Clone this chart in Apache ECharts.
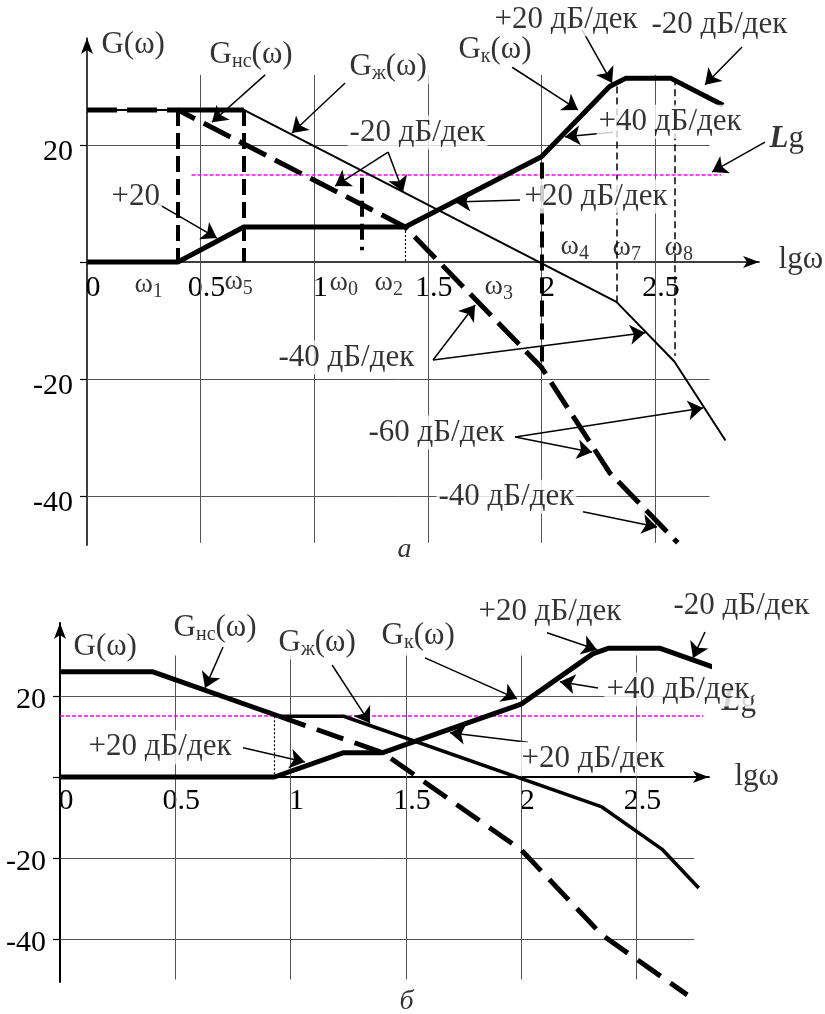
<!DOCTYPE html>
<html>
<head>
<meta charset="utf-8">
<script src="https://cdn.jsdelivr.net/npm/echarts@6/dist/echarts.min.js"></script>
<style>
  html, body { margin: 0; padding: 0; background: #fff; }
  #chart { width: 825px; height: 1014px; }
</style>
</head>
<body>
<div id="chart"></div>
<script>
// ---------- axes ----------
const xTicks = [0, 0.5, 1, 1.5, 2, 2.5];
const yTickValues = [20, 0, -20, -40];
const yTickLabels = [20, -20, -40];
const gridXs = [0.5, 1, 1.5, 2, 2.5];
const gridYs = [20, -20, -40];
const lgLevel = 15;

// ---------- panel а: asymptotic characteristics, dB vs lg ω ----------
const gNsA = [[0, 26], [0.4, 26], [1.4, 6], [2.0, -18], [2.3, -36], [2.6, -48]];
const gZhA = [[0, 26], [0.69, 26], [2.33, -6.8], [2.585, -17], [2.81, -30.5]];
const gKA = [[0, 0], [0.4, 0], [0.69, 6], [1.4, 6], [2.0, 18], [2.3, 30], [2.37, 31.4], [2.57, 31.4], [2.8, 26.8]];
const shelfA = [[0.4, 26], [0.69, 26]];
const lgSpanA = [0.46, 2.79];
const dropsThickA = [[0.4, 26, 0], [0.69, 26, 0], [1.21, 14.4, 2], [2.0, 17, -17]];
const dropsDotA = [[1.4, 6, 0]];
const dropsThinA = [[2.33, 30, -6.8], [2.585, 31.4, -16]];

// ---------- panel б ----------
const gNsB = [[0, 26], [0.4, 26], [0.95, 15]];
const gNsTailB = [[0.95, 15], [1.4, 6], [2.0, -18], [2.35, -39], [2.72, -53.8]];
const gZhB = [[0.95, 15], [1.23, 15], [2.35, -7.4], [2.61, -17.8], [2.77, -27.4]];
const gKB = [[0, 0], [0.93, 0], [1.23, 6], [1.4, 6], [2.0, 18], [2.31, 30.4], [2.38, 31.8], [2.6, 31.8], [2.83, 27.2]];
const lgSpanB = [0, 2.79];
const dropsDotB = [[0.93, 15, 0]];

// ---------- annotations (text, x, y) ----------
const notesA = [
  ['G(ω)', 0.057, 37.1],
  ['G{s|нс}(ω)', 0.533, 35.4],
  ['G{s|ж}(ω)', 1.149, 33.3],
  ['-20 дБ/дек', 1.149, 22.05],
  ['+20', 0.101, 11.1],
  ['G{s|к}(ω)', 1.628, 36.2],
  ['+20 дБ/дек', 1.787, 41.4],
  ['-20 дБ/дек', 2.478, 40.5],
  ['+40 дБ/дек', 2.245, 23.9],
  ['{b|L}g', 2.997, 20.9],
  ['+20 дБ/дек', 1.919, 11.1],
  ['-40 дБ/дек', 0.836, -16.4],
  ['-60 дБ/дек', 1.232, -29.2],
  ['-40 дБ/дек', 1.540, -40.2],
  ['lgω', 3.037, 0.3]
];
const omegaA = [
  ['ω{s|1}', 0.211, -3.9], ['ω{s|5}', 0.607, -3.4], ['ω{s|0}', 1.07, -3.6],
  ['ω{s|2}', 1.268, -3.6], ['ω{s|3}', 1.752, -4.3], ['ω{s|4}', 2.086, 2.56],
  ['ω{s|7}', 2.315, 2.4], ['ω{s|8}', 2.544, 2.4]
];
const captionA = [['а', 1.40, -49.2]];
const arrowsA = [
  [0.784, 32.0, 0.55, 23.9], [1.136, 30.6, 0.902, 22.05],
  [1.325, 18.8, 1.092, 13.0], [1.325, 18.8, 1.391, 12.0],
  [0.299, 10.26, 0.572, 4.1], [1.871, 33.3, 2.161, 26.0],
  [2.179, 39.7, 2.311, 30.6], [2.883, 36.75, 2.72, 30.3],
  [2.315, 22.2, 2.104, 21.4], [2.984, 20.5, 2.751, 15.4],
  [1.906, 10.6, 1.62, 10.26], [1.523, -16.75, 1.708, -7.35],
  [1.523, -16.75, 2.456, -12.1], [1.884, -29.9, 2.711, -24.96],
  [1.884, -29.9, 2.223, -32.5], [2.183, -42.7, 2.509, -45.3]
];

const notesB = [
  ['G(ω)', 0.052, 31.9],
  ['G{s|нс}(ω)', 0.486, 36.8],
  ['G{s|ж}(ω)', 0.941, 33.1],
  ['G{s|к}(ω)', 1.388, 34.8],
  ['+20 дБ/дек', 1.808, 40.7],
  ['-20 дБ/дек', 2.654, 42.2],
  ['+40 дБ/дек', 2.363, 21.5],
  ['+20 дБ/дек', 1.995, 4.4],
  ['+20 дБ/дек', 0.117, 7.2],
  ['lgω', 2.918, 0]
];
const lgNoteB = [['{b|L}g', 2.871, 18.3]];
const captionB = [['б', 1.505, -55.6]];
const arrowsB = [
  [0.707, 32.1, 0.629, 22.0], [1.18, 27.65, 1.344, 13.3],
  [1.583, 29.4, 1.982, 19.3], [2.112, 35.6, 2.329, 31.4],
  [2.797, 35.8, 2.745, 29.4], [2.333, 22.0, 2.168, 23.5],
  [2.029, 8.6, 1.691, 10.9], [0.794, 7.2, 1.062, 3.7]
];

// ---------- styling helpers ----------
const SERIF = '"Liberation Serif", "Times New Roman", serif';
const TEXT_SIZE = 31;
const RICH = {
  s: { fontFamily: SERIF, fontSize: 20, verticalAlign: 'top', lineHeight: 19, padding: [13, 0, 0, 0], color: '#000' },
  b: { fontFamily: SERIF, fontSize: TEXT_SIZE, fontStyle: 'italic', fontWeight: 'bold', color: '#000' }
};

function curve(ai, data, width, type, z) {
  return {
    type: 'line', xAxisIndex: ai, yAxisIndex: ai, data: data,
    showSymbol: false, symbol: 'none', clip: false, silent: true, z: z || 4,
    lineStyle: { color: '#000', width: width, type: type || 'solid', cap: 'butt' }
  };
}

function segments(ai, list, lineStyle, z, arrow) {
  return {
    type: 'lines', coordinateSystem: 'cartesian2d', xAxisIndex: ai, yAxisIndex: ai,
    silent: true, clip: false, z: z,
    symbol: arrow ? ['none', 'arrow'] : ['none', 'none'],
    symbolSize: arrow ? [0, 15] : 0,
    lineStyle: Object.assign({ color: '#000', opacity: 1, curveness: 0 }, lineStyle),
    data: list.map(s => ({ coords: [[s[0], s[1]], [s[2], s[3]]] }))
  };
}

function drops(list) { return list.map(d => [d[0], d[1], d[0], d[2]]); }

function gridLines(yLo, yHi, xEnd) {
  const out = [];
  gridXs.forEach(x => out.push([x, yLo, x, yHi]));
  gridYs.forEach(y => out.push([0, y, xEnd, y]));
  return out;
}

function notes(ai, list, opt) {
  opt = opt || {};
  return {
    type: 'scatter', xAxisIndex: ai, yAxisIndex: ai, symbolSize: 1, clip: false, silent: true,
    z: opt.z || 10,
    itemStyle: { color: 'rgba(0,0,0,0)' },
    data: list.map(n => ({ value: [n[1], n[2]], label: { formatter: n[0] } })),
    label: {
      show: true, position: [0, 0], align: opt.align || 'left', verticalAlign: 'middle',
      fontFamily: SERIF, fontSize: opt.size || TEXT_SIZE, fontStyle: opt.italic ? 'italic' : 'normal',
      color: '#000', lineHeight: 32,
      backgroundColor: opt.bg ? '#fff' : 'transparent', padding: opt.bg ? [1, 2] : 0,
      rich: RICH
    }
  };
}

// the horizontal axis sits on the 0 dB line: shift it up from the grid bottom
function xAxis(ai, max, width, lift, margin) {
  return {
    gridIndex: ai, type: 'value', min: 0, max: max, offset: -lift,
    axisLine: { onZero: false, symbol: ['none', 'arrow'], symbolSize: [9, 16], lineStyle: { color: '#000', width: width } },
    axisTick: { show: false }, splitLine: { show: false },
    axisLabel: {
      customValues: xTicks, formatter: v => String(v), color: '#000',
      fontFamily: SERIF, fontSize: 30, lineHeight: 30, margin: margin, padding: [0, 0, 0, 12]
    }
  };
}

function yAxis(ai, min, max, width, labelDrop) {
  return {
    gridIndex: ai, type: 'value', min: min, max: max,
    axisLine: { onZero: false, symbol: ['none', 'arrow'], symbolSize: [9, 16], lineStyle: { color: '#000', width: width } },
    axisTick: { show: true, customValues: yTickValues, length: 7, lineStyle: { color: '#000', width: 1.2 } },
    splitLine: { show: false },
    axisLabel: {
      customValues: yTickLabels, formatter: v => String(v), color: '#000',
      fontFamily: SERIF, fontSize: 30, margin: 14,
      verticalAlign: 'top', lineHeight: labelDrop * 2
    }
  };
}

const GRID_STYLE = { color: '#555', width: 1 };
const LG_STYLE = { color: '#ff00ff', width: 1.6, type: [4, 2] };

const option = {
  animation: false,
  backgroundColor: '#fff',
  grid: [
    { left: 87, top: 38, width: 672.1, height: 507.2, outerBoundsMode: 'none', containLabel: false },
    { left: 60, top: 623.1, width: 648.9, height: 358.8, outerBoundsMode: 'none', containLabel: false }
  ],
  xAxis: [xAxis(0, 2.958, 1.5, 283.1, 11), xAxis(1, 2.814, 2, 204.9, 9)],
  yAxis: [yAxis(0, -48.4, 38.3, 1.5, 7), yAxis(1, -50.6, 38, 2, 4)],
  series: [
    // panel а
    segments(0, gridLines(-48, 32, 2.74), GRID_STYLE, 1),
    segments(0, [[lgSpanA[0], lgLevel, lgSpanA[1], lgLevel]], LG_STYLE, 2),
    segments(0, drops(dropsThickA), { width: 4, type: [16, 7] }, 3),
    segments(0, drops(dropsDotA), { width: 1.2, type: [2, 2] }, 3),
    segments(0, drops(dropsThinA), { width: 1.5, type: [7, 4] }, 3),
    curve(0, gZhA, 2, 'solid', 4),
    curve(0, shelfA, 5, 'solid', 4),
    curve(0, gNsA, 5, [30, 10], 5),
    curve(0, gKA, 5, 'solid', 5),
    segments(0, arrowsA, { width: 1.5 }, 6, true),
    notes(0, omegaA, { size: 28 }),
    notes(0, notesA, { bg: true }),
    notes(0, captionA, { align: 'center', italic: true, size: 28 }),
    // panel б
    segments(1, gridLines(-50, 30, 2.75), GRID_STYLE, 1),
    segments(1, [[lgSpanB[0], lgLevel, lgSpanB[1], lgLevel]], LG_STYLE, 2),
    segments(1, drops(dropsDotB), { width: 1.2, type: [2, 2] }, 3),
    curve(1, gZhB, 3.5, 'solid', 4),
    curve(1, gNsB, 5, 'solid', 5),
    curve(1, gNsTailB, 5, [28, 12], 5),
    curve(1, gKB, 5, 'solid', 5),
    segments(1, arrowsB, { width: 1.5 }, 6, true),
    notes(1, lgNoteB, { z: 8 }),
    notes(1, notesB, { bg: true }),
    notes(1, captionB, { align: 'center', italic: true, size: 28 })
  ]
};

const chart = echarts.init(document.getElementById('chart'), null, { renderer: 'canvas' });
chart.setOption(option);
</script>
</body>
</html>
